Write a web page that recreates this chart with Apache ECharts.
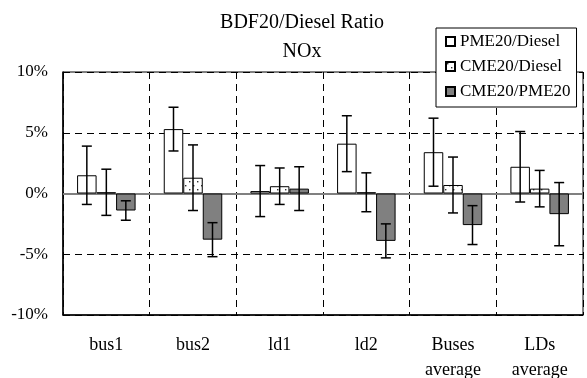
<!DOCTYPE html>
<html>
<head>
<meta charset="utf-8">
<script src="https://cdn.jsdelivr.net/npm/echarts@6/dist/echarts.min.js"></script>
<style>
  html, body { margin: 0; padding: 0; background: #fff; }
  #chart { width: 587px; height: 378px; }
</style>
</head>
<body>
<div id="chart"></div>
<script>
// Vehicles / groups along the x axis
const categories = ['bus1', 'bus2', 'ld1', 'ld2', 'Buses\naverage', 'LDs\naverage'];

// NOx ratio differences (%) and their error half-widths (%)
const pmeDiesel    = [1.5, 5.3, 0.2, 4.1, 3.4, 2.2];
const pmeDieselErr = [2.4, 1.8, 2.1, 2.3, 2.8, 2.9];
const cmeDiesel    = [0.1, 1.3, 0.6, 0.1, 0.7, 0.4];
const cmeDieselErr = [1.9, 2.7, 1.5, 1.6, 2.3, 1.5];
const cmePme       = [-1.4, -3.8, 0.4, -3.9, -2.6, -1.7];
const cmePmeErr    = [0.8, 1.4, 1.8, 1.4, 1.6, 2.6];

const yTicks = [-10, -5, 0, 5, 10];

const FONT = '"Liberation Serif", "Times New Roman", serif';
const BAR_W = 19.5;

// Dotted fill used for the CME20/Diesel bars
function dotPattern() {
  const c = document.createElement('canvas');
  c.width = 8; c.height = 8;
  const g = c.getContext('2d');
  g.fillStyle = '#fff';
  g.fillRect(0, 0, 8, 8);
  g.fillStyle = '#333';
  g.fillRect(1, 1, 1.4, 1.4);
  g.fillRect(5, 5, 1.4, 1.4);
  return c;
}

function errorSeries(values, errs, slot) {
  return {
    type: 'custom',
    name: 'err' + slot,
    z: 5,
    silent: true,
    data: values.map((v, i) => [i, v - errs[i], v + errs[i]]),
    renderItem: function (params, api) {
      const cx = api.coord([api.value(0), 0])[0] + (slot - 1) * BAR_W;
      const yLo = api.coord([api.value(0), api.value(1)])[1];
      const yHi = api.coord([api.value(0), api.value(2)])[1];
      const cap = 5;
      const style = { stroke: '#000', lineWidth: 1.5 };
      return {
        type: 'group',
        children: [
          { type: 'line', shape: { x1: cx, y1: yLo, x2: cx, y2: yHi }, style: style },
          { type: 'line', shape: { x1: cx - cap, y1: yHi, x2: cx + cap, y2: yHi }, style: style },
          { type: 'line', shape: { x1: cx - cap, y1: yLo, x2: cx + cap, y2: yLo }, style: style }
        ]
      };
    }
  };
}

const chart = echarts.init(document.getElementById('chart'), null, { renderer: 'canvas' });

chart.setOption({
  backgroundColor: '#fff',
  animation: false,
  textStyle: { fontFamily: FONT, color: '#000' },
  title: {
    text: 'BDF20/Diesel Ratio\nNOx',
    left: 297,
    top: 3,
    textAlign: 'center',
    textStyle: { fontFamily: FONT, fontSize: 20, fontWeight: 'normal', color: '#000', lineHeight: 29 }
  },
  legend: {
    orient: 'vertical',
    left: 436,
    top: 28,
    data: ['PME20/Diesel', 'CME20/Diesel', 'CME20/PME20'],
    icon: 'rect',
    itemWidth: 9,
    itemHeight: 9,
    itemGap: 8,
    padding: [5, 6, 7, 9],
    backgroundColor: '#fff',
    borderColor: '#000',
    borderWidth: 1,
    z: 10,
    textStyle: { fontFamily: FONT, fontSize: 17, color: '#000' }
  },
  grid: {
    left: 63,
    right: 4,
    top: 72,
    bottom: 63,
    outerBoundsMode: 'none',
    containLabel: false,
    show: true,
    borderColor: '#000',
    borderWidth: 1,
    backgroundColor: '#fff'
  },
  xAxis: {
    type: 'category',
    data: categories,
    axisLine: { onZero: false, lineStyle: { color: '#000', width: 1.5 } },
    axisTick: { show: false },
    axisLabel: {
      fontFamily: FONT, fontSize: 18, color: '#000',
      margin: 18, lineHeight: 25, interval: 0
    },
    splitLine: { show: true, lineStyle: { color: '#000', type: [7, 5], width: 1 } }
  },
  yAxis: {
    type: 'value',
    min: yTicks[0],
    max: yTicks[yTicks.length - 1],
    interval: 5,
    axisLine: { show: true, lineStyle: { color: '#000', width: 1.5 } },
    axisTick: { show: false },
    axisLabel: {
      fontFamily: FONT, fontSize: 17, color: '#000', margin: 15,
      formatter: '{value}%'
    },
    splitLine: { show: true, lineStyle: { color: '#000', type: [7, 5], width: 1 } }
  },
  series: [
    {
      name: 'PME20/Diesel',
      type: 'bar',
      data: pmeDiesel,
      barWidth: BAR_W,
      barGap: '0%',
      itemStyle: { color: '#fff', borderColor: '#000', borderWidth: 1 },
      markLine: {
        silent: true,
        symbol: 'none',
        label: { show: false },
        lineStyle: { color: '#808080', type: 'solid', width: 2 },
        data: [{ yAxis: 0 }],
        z: 1
      }
    },
    {
      name: 'CME20/Diesel',
      type: 'bar',
      data: cmeDiesel,
      barWidth: BAR_W,
      barGap: '0%',
      itemStyle: { color: { image: dotPattern(), repeat: 'repeat' }, borderColor: '#000', borderWidth: 1 }
    },
    {
      name: 'CME20/PME20',
      type: 'bar',
      data: cmePme,
      barWidth: BAR_W,
      barGap: '0%',
      itemStyle: { color: '#808080', borderColor: '#000', borderWidth: 1 }
    },
    errorSeries(pmeDiesel, pmeDieselErr, 0),
    errorSeries(cmeDiesel, cmeDieselErr, 1),
    errorSeries(cmePme, cmePmeErr, 2)
  ]
});
</script>
</body>
</html>
